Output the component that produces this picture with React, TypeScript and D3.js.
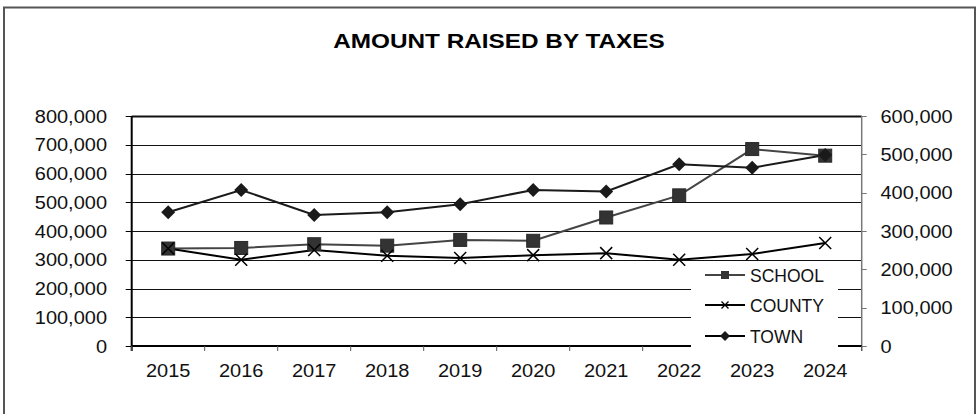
import React from "react";
import * as d3 from "d3";

const years = ["2015", "2016", "2017", "2018", "2019", "2020", "2021", "2022", "2023", "2024"];
const school = [339000, 341000, 354000, 349000, 369000, 366000, 447000, 524000, 685000, 662000];
const county = [339000, 300000, 334000, 314000, 306000, 316000, 323000, 300000, 320000, 358000];
const town = [349000, 407000, 342000, 349000, 370000, 407000, 403000, 474000, 465000, 498000];
const leftTicks = [0, 100000, 200000, 300000, 400000, 500000, 600000, 700000, 800000];
const rightTicks = [0, 100000, 200000, 300000, 400000, 500000, 600000];
const legendLabels = ["SCHOOL", "COUNTY", "TOWN"];
const title = "AMOUNT RAISED BY TAXES";

const W = 978, H = 414;
const L = 131.7, R = 861.7, T = 116, B = 346;
const FONT = "'Liberation Sans', Arial, sans-serif";
const FS = 18.5;
const SX = 1.08;

export default function App() {
  const x = d3.scaleBand<string>().domain(years).range([L, R]);
  const cx = (d: string) => (x(d) as number) + x.bandwidth() / 2;
  const yL = d3.scaleLinear().domain([0, 800000]).range([B, T]);
  const yR = d3.scaleLinear().domain([0, 600000]).range([B, T]);
  const fmt = d3.format(",");

  const lineL = d3.line<number>().x((_, i) => cx(years[i])).y((v) => yL(v));
  const lineR = d3.line<number>().x((_, i) => cx(years[i])).y((v) => yR(v));

  const diamond = (s: number) => `M0,${-s}L${s},0L0,${s}L${-s},0Z`;
  const xMark = (s: number) => `M${-s},${-s}L${s},${s}M${-s},${s}L${s},${-s}`;

  const tickXs = years.map((d) => x(d) as number).concat([R]);

  const legY = [275, 305, 336];

  return (
    <svg width={W} height={H} style={{ position: "absolute", left: 0, top: 0, background: "#fff" }} fontFamily={FONT}>
      <rect x={0} y={0} width={W} height={H} fill="#fff" />
      <rect x={4} y={7.5} width={971} height={420} fill="none" stroke="#555" strokeWidth={2} />
      <text transform={`translate(499,47.5) scale(1.17,1)`} textAnchor="middle" fontWeight="bold" fontSize={20.8} fill="#000">
        {title}
      </text>

      {/* gridlines */}
      {leftTicks.map((t) => (
        <line key={"g" + t} x1={L} x2={R} y1={Math.round(yL(t)) + 0.5} y2={Math.round(yL(t)) + 0.5} stroke="#111" strokeWidth={t === 800000 ? 2 : 1} />
      ))}

      {/* left axis */}
      <line x1={L} x2={L} y1={T} y2={B + 5} stroke="#000" strokeWidth={2} />
      {leftTicks.map((t) => (
        <g key={"lt" + t}>
          <line x1={L - 6} x2={L} y1={Math.round(yL(t)) + 0.5} y2={Math.round(yL(t)) + 0.5} stroke="#000" strokeWidth={1} />
          <text transform={`translate(107,${yL(t) + 6.7}) scale(${SX},1)`} textAnchor="end" fontSize={FS} fill="#111">
            {fmt(t)}
          </text>
        </g>
      ))}

      {/* right axis */}
      <line x1={R} x2={R} y1={T} y2={B + 5} stroke="#777" strokeWidth={1.5} />
      {rightTicks.map((t) => (
        <g key={"rt" + t}>
          <line x1={R} x2={R + 5} y1={Math.round(yR(t)) + 0.5} y2={Math.round(yR(t)) + 0.5} stroke="#777" strokeWidth={1} />
          <text transform={`translate(880.5,${yR(t) + 6.7}) scale(${SX},1)`} textAnchor="start" fontSize={FS} fill="#111">
            {fmt(t)}
          </text>
        </g>
      ))}

      {/* x axis */}
      <line x1={L} x2={R} y1={B} y2={B} stroke="#000" strokeWidth={2} />
      {tickXs.map((tx, i) => (
        <line key={"xt" + i} x1={tx} x2={tx} y1={B} y2={B + 5} stroke="#555" strokeWidth={1} />
      ))}
      {years.map((d) => (
        <text key={"xl" + d} transform={`translate(${cx(d)},376.7) scale(${SX},1)`} textAnchor="middle" fontSize={FS} fill="#111">
          {d}
        </text>
      ))}

      {/* series */}
      <path d={lineL(school) || ""} fill="none" stroke="#444" strokeWidth={2} />
      <path d={lineL(county) || ""} fill="none" stroke="#000" strokeWidth={2} />
      <path d={lineR(town) || ""} fill="none" stroke="#1a1a1a" strokeWidth={2} />

      {school.map((v, i) => (
        <rect key={"sm" + i} x={cx(years[i]) - 6.5} y={yL(v) - 6.5} width={13} height={13} fill="#333" stroke="#2a2a2a" strokeWidth={1} />
      ))}
      {county.map((v, i) => (
        <path key={"cm" + i} transform={`translate(${cx(years[i])},${yL(v)})`} d={xMark(6)} stroke="#000" strokeWidth={1.5} fill="none" />
      ))}
      {town.map((v, i) => (
        <path key={"tm" + i} transform={`translate(${cx(years[i])},${yR(v)})`} d={diamond(7)} fill="#1a1a1a" />
      ))}

      {/* legend */}
      <rect x={691} y={262} width={147} height={90} fill="#fff" />
      {legendLabels.map((lab, i) => (
        <g key={"lg" + lab} transform={`translate(0,${legY[i]})`}>
          <line x1={705} x2={745} y1={0} y2={0} stroke={i === 0 ? "#444" : "#000"} strokeWidth={2} />
          {i === 0 && <rect x={721} y={-4} width={8} height={8} fill="#333" />}
          {i === 1 && <path transform="translate(725,0)" d={xMark(3.5)} stroke="#000" strokeWidth={1.3} fill="none" />}
          {i === 2 && <path transform="translate(725,0)" d={diamond(5)} fill="#1a1a1a" />}
          <text x={750} y={6.5} fontSize={17.5} fill="#111">
            {lab}
          </text>
        </g>
      ))}
    </svg>
  );
}
